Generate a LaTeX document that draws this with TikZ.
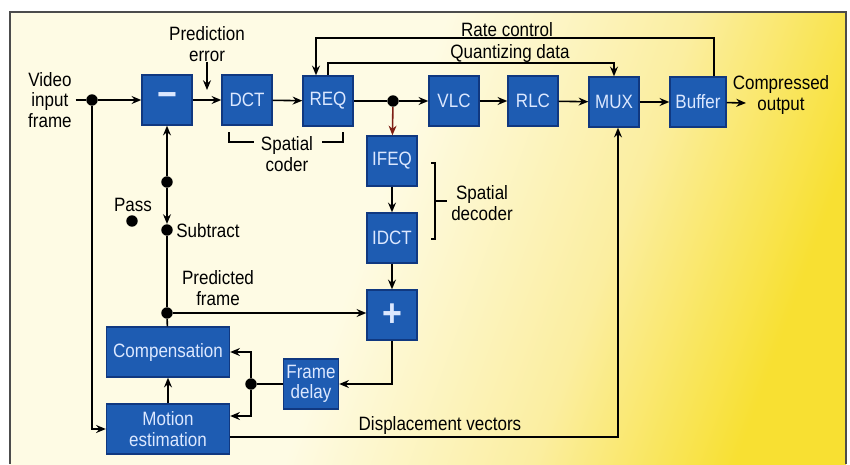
\documentclass[tikz,border=0pt]{standalone}
\usepackage{fontspec}
\setmainfont{Liberation Sans}[FakeStretch=0.88]
\usetikzlibrary{arrows.meta}

\definecolor{boxblue}{RGB}{30,92,178}
\definecolor{boxedge}{RGB}{16,56,128}
\definecolor{boxtext}{RGB}{220,232,255}
\definecolor{darkred}{RGB}{125,30,20}
\definecolor{bgA}{RGB}{254,251,228}
\definecolor{bgB}{RGB}{251,238,160}
\definecolor{bgC}{RGB}{248,224,50}

\pgfdeclarehorizontalshading{paper}{100bp}{color(0bp)=(bgA); color(25bp)=(bgA);
  color(46bp)=(bgA); color(62bp)=(bgB); color(75bp)=(bgC); color(100bp)=(bgC)}

\begin{document}
\begin{tikzpicture}[x=0.02cm, y=-0.02cm, font=\fontsize{11}{11.5}\selectfont,
  >={Stealth[length=5.5pt,width=4.5pt]},
  blk/.style={draw=boxedge, line width=0.8pt, fill=boxblue, text=boxtext,
    minimum width=1cm, minimum height=1cm, inner sep=0pt, align=center},
  lbl/.style={align=center, inner sep=0pt},
  ln/.style={line width=0.9pt},
  dot/.style={circle, fill=black, inner sep=0pt, minimum size=6.5pt},
  sign/.style={font=\fontsize{22}{22}\selectfont\bfseries},
]

% Frame and background
\useasboundingbox (0,0) rectangle (850,464);
\fill[white] (0,0) rectangle (850,464);
\shade[shading=paper, shading angle=-20] (10,12) rectangle (846,464);
\draw[line width=0.6pt, black!70] (10,464) -- (10,12) -- (846,12) -- (846,464);

% Coder chain
\node[blk,sign] (sub) at (167,100) {−};
\node[blk] (dct) at (247,100) {DCT};
\node[blk] (req) at (328,101) {REQ};
\node[blk] (vlc) at (454,101) {VLC};
\node[blk] (rlc) at (533,101) {RLC};
\node[blk] (mux) at (614,102) {MUX};
\node[blk, minimum width=1.12cm] (buf) at (698,102) {Buffer};

% Decoder loop
\node[blk] (ifeq) at (392,161) {IFEQ};
\node[blk] (idct) at (392,238) {IDCT};
\node[blk,sign] (add) at (392,315) {+};
\node[blk, minimum width=2.46cm] (comp) at (168,352) {Compensation};
\node[blk, minimum width=2.46cm] (mest) at (168,429) {Motion\\estimation};
\node[blk, minimum width=1.1cm] (fdel) at (311,384) {Frame\\delay};

% Junctions
\node[dot] (din) at (92,100) {};
\node[dot] (dreq) at (393,101) {};
\node[dot] (dsw) at (167,182) {};
\node[dot] (dpass) at (132,221) {};
\node[dot] (dsub) at (167,230) {};
\node[dot] (dpred) at (167,313) {};
\node[dot] (dfd) at (251,384) {};

% Labels
\node[lbl, anchor=east] (vin) at (72,100) {Video\\input\\frame};
\node[lbl] (perr) at (207,44) {Prediction\\error};
\node[lbl] (cout) at (781,95) {Compressed\\output};
\node[lbl] (rclbl) at (507,30) {Rate control};
\node[lbl] (qdlbl) at (510,53) {Quantizing data};
\node[lbl] (sclbl) at (287,154) {Spatial\\coder};
\node[lbl] (sdlbl) at (482,203) {Spatial\\decoder};
\node[lbl] (passlbl) at (133,205) {Pass};
\node[lbl, anchor=west] (sublbl) at (176,231) {Subtract};
\node[lbl] (pflbl) at (218,288) {Predicted\\frame};
\node[lbl] (dvlbl) at (440,425) {Displacement vectors};

\coordinate (perrtip) at (207,90);
\coordinate (outtip) at (746,103);
\coordinate (rc) at (714,38);
\coordinate (qd) at (614,63);

% Forward path
\draw[ln] ([xshift=2pt]vin.east) -- (din);
\draw[ln,->] (din) -- (sub);
\draw[ln,->] (din) |- (mest.west);
\draw[ln,->] (perr.south) -- (perrtip);
\draw[ln,->] (sub) -- (dct);
\draw[ln,->] (dct) -- (req);
\draw[ln] (req) -- (dreq);
\draw[ln,->] (dreq) -- (vlc);
\draw[ln,->,darkred] (dreq) -- (ifeq);
\draw[ln,->] (vlc) -- (rlc);
\draw[ln,->] (rlc) -- (mux);
\draw[ln,->] (mux) -- (buf);
\draw[ln,->] (buf) -- (outtip);

% Feedback lines
\draw[ln,->] (buf.north -| rc) -- (rc) -| ([xshift=-0.24cm]req.north);
\draw[ln,->] (req.north) |- (qd) -- (mux.north);

% Spatial coder / decoder brackets
\draw[ln] (229,132) -- (229,142) -- (254,142);
\draw[ln] (322,142) -- (343,142) -- (343,132);
\draw[ln] (431,163) -- (435,163) -- (435,239) -- (431,239);
\draw[ln] (435,201) -- (447,201);

% Prediction loop
\draw[ln,->] (ifeq) -- (idct);
\draw[ln,->] (idct) -- (add);
\draw[ln,->] (add) |- (fdel);
\draw[ln] (fdel) -- (dfd);
\draw[ln,->] (dfd) |- (comp.east);
\draw[ln,->] (dfd) |- ([yshift=0.26cm]mest.east);
\draw[ln,->] (mest) -- (comp);
\draw[ln,->] ([yshift=-0.16cm]mest.east) -| ([xshift=0.08cm]mux.south);

% Pass / subtract switch
\draw[ln,->] (dsw) -- (sub);
\draw[ln,->] (dsw) -- (dsub);
\draw[ln] (dsub) -- (dpred);
\draw[ln] (dpred) -- (comp);
\draw[ln,->] (dpred) -- (dpred -| add.west);

\end{tikzpicture}
\end{document}
